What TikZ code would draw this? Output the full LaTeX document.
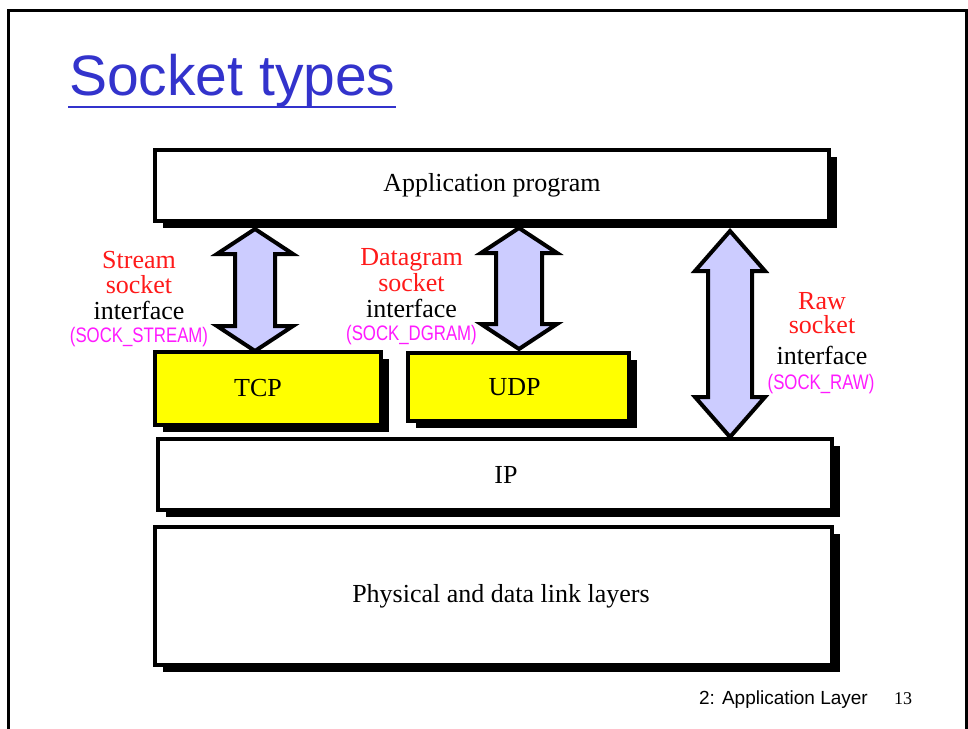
\documentclass[tikz,border=0pt]{standalone}
\usepackage{fontspec}
\setmainfont{Liberation Serif}
\newfontfamily\sansf{Liberation Sans}
\newfontfamily\narrowsans[FakeStretch=0.8]{Liberation Sans}
\usetikzlibrary{shadows}
\definecolor{titleblue}{HTML}{3333CC}
\definecolor{lavender}{HTML}{CCCCFF}
\definecolor{lblred}{HTML}{FF1A1A}
\definecolor{lblmag}{HTML}{FF1AFF}
\definecolor{boxyellow}{HTML}{FFFF00}
\tikzset{
  layer/.style={draw=black, line width=3.5pt, fill=white, rectangle, inner sep=0pt,
    font=\fontsize{26}{26}\selectfont,
    drop shadow={shadow xshift=8pt, shadow yshift=-7pt, fill=black, opacity=1}},
  yellowlayer/.style={layer, fill=boxyellow},
  redlbl/.style={anchor=base, text=lblred, font=\fontsize{26}{26}\selectfont, inner sep=0pt},
  blacklbl/.style={anchor=base, text=black, font=\fontsize{26}{26}\selectfont, inner sep=0pt},
  maglbl/.style={anchor=base, text=lblmag, font=\narrowsans\fontsize{21}{21}\selectfont, inner sep=0pt},
  blockarrow/.style={fill=lavender, draw=black, line width=4pt, line join=miter}
}
% \dblarrow{x}{ytop}{ybot}{headlen}{headhalf}{shafthalf}
\newcommand\dblarrow[6]{%
  \draw[blockarrow] (#1,#2) -- (#1+#5,#2+#4) -- (#1+#6,#2+#4) -- (#1+#6,#3-#4)
    -- (#1+#5,#3-#4) -- (#1,#3) -- (#1-#5,#3-#4) -- (#1-#6,#3-#4)
    -- (#1-#6,#2+#4) -- (#1-#5,#2+#4) -- cycle;}
\begin{document}
\begin{tikzpicture}[x=1pt,y=-1pt]
\clip (0,0) rectangle (968,728);
\fill[white] (0,0) rectangle (968,728);
% frame
\draw[line width=2.5pt] (8.5,740) -- (8.5,10.5) -- (966.5,10.5) -- (966.5,740);
% title
\node[anchor=base west, inner sep=0pt, text=titleblue, font=\sansf\fontsize{57}{57}\selectfont] (title) at (69,95) {Socket types};
\draw[titleblue, line width=2pt] (68,107) -- (396,107);
% layers
\node[layer, minimum width=674pt, minimum height=71pt] (app) at (492,185.5) {Application program};
\node[yellowlayer, minimum width=226pt, minimum height=73pt] (tcp) at (268,388.5) {\hspace*{-20pt}TCP};
\node[yellowlayer, minimum width=221pt, minimum height=68pt] (udp) at (518.5,387) {\hspace*{-8pt}UDP};
\node[layer, minimum width=674pt, minimum height=71pt] (ip) at (495,474.5) {\hspace*{22pt}IP};
\node[layer, minimum width=677pt, minimum height=138pt] (phys) at (493.5,596) {\hspace*{15pt}Physical and data link layers};
% arrows
\dblarrow{255}{229}{351}{25}{38}{20}
\dblarrow{519}{228}{349}{25}{38}{23}
\dblarrow{730}{231}{437}{40}{35}{22}
% stream label
\node[redlbl] (s1) at (139,268) {Stream};
\node[redlbl] (s2) at (139,293) {socket};
\node[blacklbl] (s3) at (139,319) {interface};
\node[maglbl] (s4) at (139,342) {(SOCK\_STREAM)};
% datagram label
\node[redlbl] (d1) at (411.5,265) {Datagram};
\node[redlbl] (d2) at (411.5,291) {socket};
\node[blacklbl] (d3) at (411.5,317) {interface};
\node[maglbl] (d4) at (411.5,340) {(SOCK\_DGRAM)};
% raw label
\node[redlbl] (r1) at (822,309) {Raw};
\node[redlbl] (r2) at (822,333) {socket};
\node[blacklbl] (r3) at (822,364) {interface};
\node[maglbl] (r4) at (821,389) {(SOCK\_RAW)};
% footer
\node[anchor=base east, inner sep=0pt, font=\sansf\fontsize{19}{19}\selectfont] (foot) at (868,704) {2: Application Layer};
\node[anchor=base, inner sep=0pt, font=\fontsize{18}{18}\selectfont] (page) at (903,704) {13};
\end{tikzpicture}
\end{document}
